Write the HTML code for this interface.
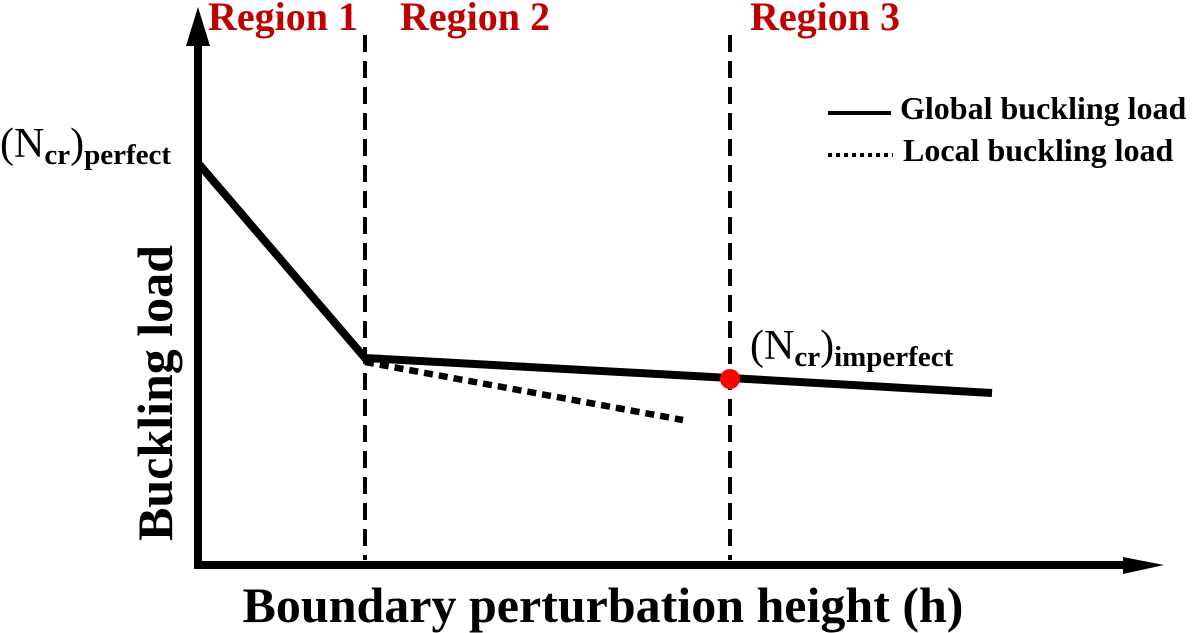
<!DOCTYPE html>
<html><head><meta charset="utf-8"><style>
html,body{margin:0;padding:0;background:#fff;}
svg{display:block;}
text{font-family:"Liberation Serif",serif;font-weight:bold;}
</style></head><body>
<svg width="1192" height="633" viewBox="0 0 1192 633" xmlns="http://www.w3.org/2000/svg">
<line x1="198" y1="569" x2="198" y2="40" stroke="#000" stroke-width="8"/>
<polygon points="198,7 186,46 210,46" fill="#000"/>
<line x1="194" y1="565" x2="1126" y2="565" stroke="#000" stroke-width="8"/>
<polygon points="1164,565 1123,557 1123,574" fill="#000"/>
<line x1="365" y1="35" x2="365" y2="560" stroke="#000" stroke-width="4" stroke-dasharray="17,9"/>
<line x1="730" y1="35" x2="730" y2="560" stroke="#000" stroke-width="4" stroke-dasharray="17,9"/>
<polyline points="198,163 365,358 730,378 992,393" fill="none" stroke="#000" stroke-width="8" stroke-linejoin="miter"/>
<line x1="365" y1="362" x2="683" y2="420" stroke="#000" stroke-width="6.5" stroke-dasharray="9,6"/>
<circle cx="730" cy="379" r="10" fill="#f00"/>
<text x="208" y="30" font-size="40" fill="#c00000">Region 1</text>
<text x="400" y="30" font-size="40" fill="#c00000">Region 2</text>
<text x="750" y="30" font-size="40" fill="#c00000">Region 3</text>
<text x="0" y="157" font-size="42"><tspan font-weight="normal">(N</tspan><tspan font-size="29" dy="7">cr</tspan><tspan font-weight="normal" font-size="42" dy="-7">)</tspan><tspan font-size="29" dy="7">perfect</tspan></text>
<text x="750" y="359" font-size="42"><tspan font-weight="normal">(N</tspan><tspan font-size="29" dy="7">cr</tspan><tspan font-weight="normal" font-size="42" dy="-7">)</tspan><tspan font-size="29" dy="7">imperfect</tspan></text>
<line x1="828" y1="113" x2="891" y2="113" stroke="#000" stroke-width="4"/>
<text x="900" y="119" font-size="32">Global buckling load</text>
<line x1="828" y1="155" x2="893" y2="155" stroke="#000" stroke-width="4" stroke-dasharray="4,4"/>
<text x="903" y="161" font-size="32">Local buckling load</text>
<text x="0" y="0" font-size="50" text-anchor="middle" transform="translate(172,393) rotate(-90)">Buckling load</text>
<text x="603" y="622" font-size="50" text-anchor="middle">Boundary perturbation height (h)</text>
</svg>
</body></html>
